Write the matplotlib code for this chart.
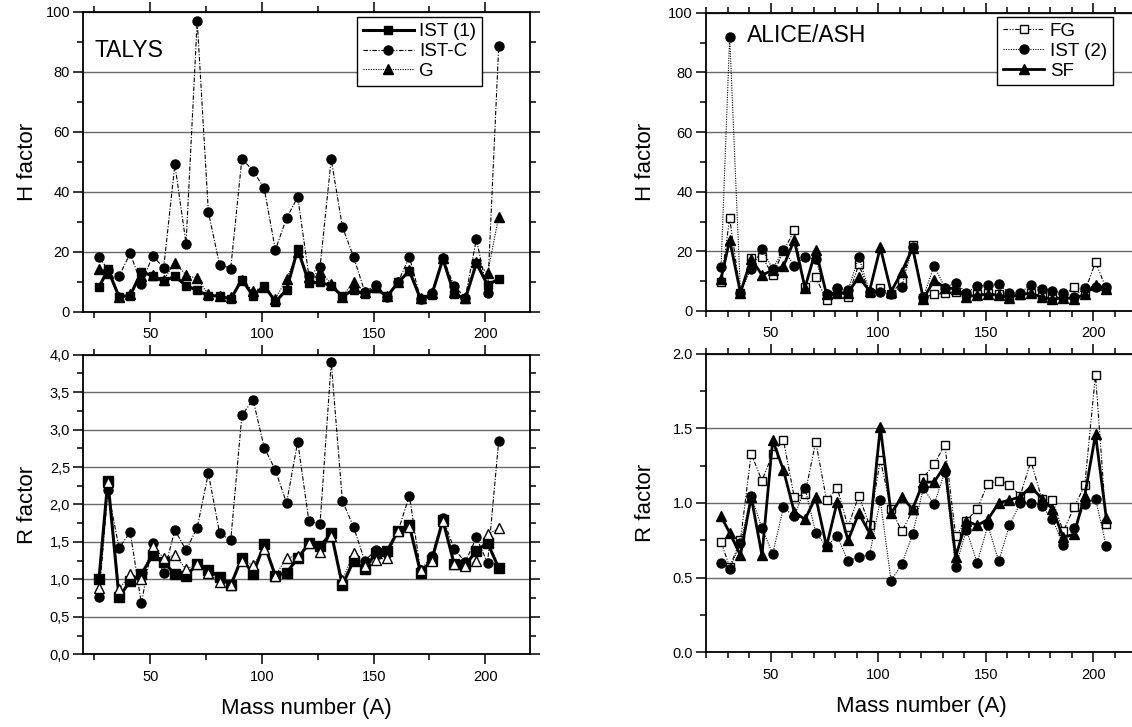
import matplotlib
matplotlib.use("Agg")
import matplotlib.pyplot as plt
from matplotlib.ticker import MultipleLocator, FuncFormatter

plt.rcParams['font.family'] = ['Liberation Sans', 'DejaVu Sans']

# ---------------- data ----------------
mass = [27, 31, 36, 41, 46, 51, 56, 61, 66, 71, 76, 81, 86, 91, 96, 101, 106, 111, 116,
        121, 126, 131, 136, 141, 146, 151, 156, 161, 166, 171, 176, 181, 186, 191, 196, 201, 206]

# TALYS, H factor
h_ist1 = [8.1, 14.1, 5.0, 5.4, 13.3, 12.0, 10.2, 11.8, 8.7, 7.1, 5.3, 5.3, 4.2, 10.7, 5.3, 8.7, 3.3,
          7.3, 20.9, 9.6, 9.8, 8.7, 5.1, 7.3, 5.8, 7.8, 5.1, 9.8, 13.6, 4.2, 5.6, 17.6, 6.0, 4.2,
          16.2, 8.9, 10.9]
h_istc = [18.4, 14.0, 11.8, 19.5, 9.1, 18.6, 14.7, 49.1, 22.7, 97.0, 33.2, 15.7, 14.4, 51.0, 47.0,
          41.1, 20.6, 31.2, 38.2, 12.0, 15.0, 50.8, 28.3, 18.3, 6.7, 8.9, 5.0, 10.0, 18.3, 4.4, 6.1,
          18.0, 8.6, 4.7, 24.2, 6.4, 88.7]
h_g = [14.4, 13.0, 5.0, 5.8, 12.0, 12.3, 10.6, 16.4, 12.2, 11.1, 5.8, 5.3, 4.8, 10.6, 6.9, 8.3, 4.4,
       10.8, 20.0, 11.7, 13.3, 9.4, 5.0, 10.0, 6.7, 8.3, 5.3, 10.0, 13.9, 4.7, 6.1, 17.8, 6.7, 4.7,
       16.7, 12.8, 31.7]

# TALYS, R factor
r_ist1 = [1.00, 2.32, 0.76, 0.98, 1.07, 1.32, 1.23, 1.07, 1.05, 1.20, 1.13, 1.03, 0.92, 1.29, 1.07,
          1.47, 1.05, 1.09, 1.28, 1.48, 1.44, 1.62, 0.92, 1.25, 1.14, 1.35, 1.38, 1.65, 1.72, 1.09,
          1.26, 1.79, 1.21, 1.19, 1.38, 1.49, 1.15]
r_istc = [0.77, 2.19, 1.42, 1.63, 0.68, 1.48, 1.08, 1.66, 1.39, 1.69, 2.42, 1.62, 1.52, 3.19, 3.40,
          2.76, 2.46, 2.02, 2.84, 1.78, 1.74, 3.90, 2.05, 1.70, 1.25, 1.39, 1.35, 1.65, 2.12, 1.12,
          1.31, 1.82, 1.41, 1.23, 1.56, 1.22, 2.85]
r_g = [0.88, 2.30, 0.87, 1.07, 1.01, 1.44, 1.29, 1.32, 1.14, 1.20, 1.08, 0.96, 0.93, 1.25, 1.19,
       1.41, 1.05, 1.29, 1.31, 1.49, 1.37, 1.58, 0.99, 1.35, 1.18, 1.26, 1.29, 1.65, 1.70, 1.13,
       1.24, 1.78, 1.20, 1.18, 1.24, 1.60, 1.68]

# ALICE/ASH, H factor
h_fg = [9.8, 31.1, 5.9, 17.9, 18.2, 12.1, 20.0, 27.0, 8.0, 11.3, 3.7, 6.7, 4.8, 15.6, 6.1, 7.8, 5.6,
        10.0, 22.1, 4.5, 5.6, 5.9, 6.5, 5.6, 5.6, 5.9, 5.6, 4.7, 5.3, 6.1, 5.0, 4.7, 4.8, 8.2, 6.5,
        16.4, 7.5]
h_ist2 = [14.9, 92.0, 6.1, 14.2, 20.9, 14.0, 20.6, 15.2, 18.2, 17.3, 5.6, 7.8, 6.9, 18.1, 6.5, 6.5,
          5.6, 8.2, 21.6, 4.7, 15.2, 7.8, 9.5, 6.1, 8.3, 8.7, 8.9, 6.1, 6.1, 8.8, 7.5, 6.7, 6.1, 4.7,
          7.8, 8.2, 8.2]
h_sf = [10.8, 23.8, 6.1, 17.5, 12.1, 13.6, 15.0, 23.8, 7.8, 20.4, 5.6, 6.1, 6.1, 11.4, 6.7, 21.3,
        6.5, 13.1, 21.2, 4.1, 10.3, 7.8, 7.5, 4.8, 5.3, 5.6, 5.3, 4.5, 5.6, 5.9, 4.7, 3.9, 4.5, 4.1,
        5.6, 8.7, 7.5]

# ALICE/ASH, R factor
r_fg = [0.74, 0.57, 0.75, 1.33, 1.15, 1.33, 1.42, 1.04, 1.06, 1.41, 1.02, 1.10, 0.84, 1.05, 0.85,
        1.29, 0.96, 0.81, 0.95, 1.17, 1.26, 1.39, 0.78, 0.88, 0.96, 1.13, 1.15, 1.12, 1.05, 1.28,
        1.03, 1.02, 0.81, 0.97, 1.12, 1.86, 0.86]
r_ist2 = [0.60, 0.56, 0.73, 1.05, 0.83, 0.66, 0.97, 0.91, 1.10, 0.80, 0.71, 0.78, 0.61, 0.64, 0.65,
          1.02, 0.48, 0.59, 0.79, 1.10, 0.99, 1.21, 0.57, 0.82, 0.60, 0.85, 0.61, 0.85, 1.00, 1.00,
          0.98, 0.89, 0.72, 0.83, 0.99, 1.03, 0.71]
r_sf = [0.91, 0.80, 0.65, 1.04, 0.65, 1.42, 1.22, 0.94, 0.89, 1.04, 0.71, 1.01, 0.75, 0.93, 0.80,
        1.51, 0.93, 1.04, 0.96, 1.14, 1.14, 1.25, 0.64, 0.88, 0.85, 0.89, 1.00, 1.02, 1.04, 1.11,
        1.03, 0.96, 0.77, 0.79, 1.05, 1.46, 0.90]

# ---------------- figure ----------------
W, H = 1132, 727
fig = plt.figure(figsize=(W / 100, H / 100), dpi=100)

def rect(l, r, t, b):
    return [l / W, 1 - b / H, (r - l) / W, (b - t) / H]

ax_tl = fig.add_axes(rect(83.3, 530.0, 11.7, 311.7))
ax_bl = fig.add_axes(rect(83.3, 530.0, 354.7, 654.3))
ax_tr = fig.add_axes(rect(706.0, 1136.4, 12.7, 311.0))
ax_br = fig.add_axes(rect(706.0, 1136.4, 353.7, 652.3))

TICKFS = 10.5
LABFS = 16

def style(ax, ymax, ymaj, ymin, xmin_step, comma=False, ylab='', xlab=None, labx=-0.10):
    ax.set_xlim(20, 220)
    ax.set_ylim(0, ymax)
    ax.xaxis.set_major_locator(MultipleLocator(50))
    ax.xaxis.set_minor_locator(MultipleLocator(xmin_step))
    ax.yaxis.set_major_locator(MultipleLocator(ymaj))
    ax.yaxis.set_minor_locator(MultipleLocator(ymin))
    ax.tick_params(which='both', direction='out', top=True, right=True,
                   labelsize=TICKFS, width=1.1, colors='black')
    ax.tick_params(which='major', length=7)
    ax.tick_params(which='minor', length=4)
    ax.tick_params(axis='x', pad=4)
    ax.tick_params(axis='y', pad=2.5)
    if comma:
        ax.yaxis.set_major_formatter(FuncFormatter(lambda v, p: f"{v:.1f}".replace('.', ',')))
    elif ymaj < 1:
        ax.yaxis.set_major_formatter(FuncFormatter(lambda v, p: f"{v:.1f}"))
    for s in ax.spines.values():
        s.set_linewidth(1.3)
    ax.grid(axis='y', which='major', color='#6a6a6a', linewidth=1.0)
    ax.set_axisbelow(True)
    ax.set_ylabel(ylab, fontsize=LABFS)
    ax.yaxis.set_label_coords(labx, 0.5)
    if xlab:
        ax.set_xlabel(xlab, fontsize=LABFS)
        ax.xaxis.set_label_coords(0.5, -0.146)

style(ax_tl, 100, 20, 10, 25, ylab='H factor', labx=-0.1025)
style(ax_bl, 4.0, 0.5, 0.25, 25, comma=True, ylab='R factor', xlab='Mass number (A)', labx=-0.1025)
style(ax_tr, 100, 20, 10, 10, ylab='H factor', labx=-0.116)
style(ax_br, 2.0, 0.5, 0.25, 10, ylab='R factor', xlab='Mass number (A)', labx=-0.116)

dashdot = (0, (4, 1.5, 1, 1.5))
dashdotdot = (0, (4, 1.5, 1, 1.5, 1, 1.5))
dotted = (0, (1, 1.2))

# TALYS top
ax_tl.plot(mass, h_ist1, color='black', lw=2.2, ls='-', marker='s', ms=6, label='IST (1)', zorder=4)
ax_tl.plot(mass, h_istc, color='black', lw=0.8, ls=dashdot, marker='o', ms=6.5, label='IST-C', zorder=3)
ax_tl.plot(mass, h_g, color='black', lw=0.8, ls=dotted, marker='^', ms=6.5, label='G', zorder=3)

# TALYS bottom
ax_bl.plot(mass, r_istc, color='black', lw=0.8, ls=dashdot, marker='o', ms=6.5, zorder=3)
ax_bl.plot(mass, r_ist1, color='black', lw=2.2, ls='-', marker='s', ms=7, zorder=4)
ax_bl.plot(mass, r_g, color='black', lw=0.8, ls=dotted, marker='^', ms=6.5, mfc='white', mec='black',
           mew=1.0, zorder=5)

# ALICE top
ax_tr.plot(mass, h_fg, color='black', lw=0.8, ls=dashdotdot, marker='s', ms=5.5, mfc='white', mew=1.0,
           label='FG', zorder=3)
ax_tr.plot(mass, h_ist2, color='black', lw=0.8, ls=dotted, marker='o', ms=6.5, label='IST (2)', zorder=3)
ax_tr.plot(mass, h_sf, color='black', lw=2.0, ls='-', marker='^', ms=6.5, label='SF', zorder=4)

# ALICE bottom
ax_br.plot(mass, r_fg, color='black', lw=0.8, ls=dashdotdot, marker='s', ms=5.5, mfc='white', mew=1.0,
           zorder=3)
ax_br.plot(mass, r_ist2, color='black', lw=0.8, ls=dotted, marker='o', ms=6.5, zorder=3)
ax_br.plot(mass, r_sf, color='black', lw=2.0, ls='-', marker='^', ms=6.5, zorder=4)

ax_tl.text(0.026, 0.872, 'TALYS', transform=ax_tl.transAxes, fontsize=16.5, va='center', ha='left')
ax_tr.text(0.0946, 0.925, 'ALICE/ASH', transform=ax_tr.transAxes, fontsize=16.5, va='center', ha='left')

leg_kw = dict(loc='upper right', fontsize=13.5, frameon=True, fancybox=False, numpoints=1,
              handletextpad=0.3, labelspacing=0.15, borderpad=0.3,
              borderaxespad=0.0, framealpha=1.0, edgecolor='black')
lg1 = ax_tl.legend(bbox_to_anchor=(0.8925, 0.981), handlelength=2.7, **leg_kw)
lg1.get_frame().set_linewidth(1.0)
lg2 = ax_tr.legend(bbox_to_anchor=(0.945, 0.985), handlelength=2.2, **leg_kw)
lg2.get_frame().set_linewidth(1.0)

fig.savefig('out.png', dpi=100)
